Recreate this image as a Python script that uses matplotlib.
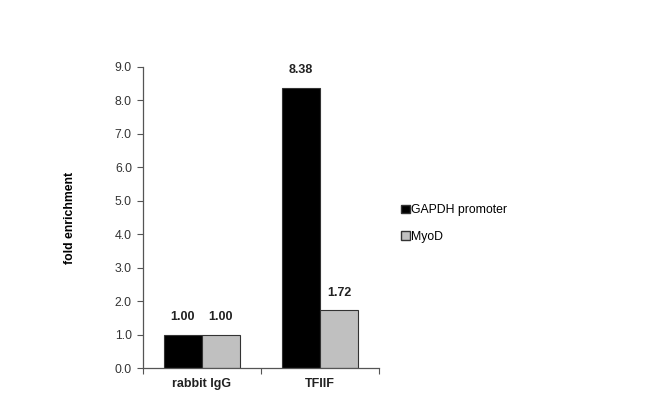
import matplotlib
matplotlib.use('Agg')
import matplotlib.pyplot as plt
import numpy as np
from matplotlib.patches import Patch

categories = ['rabbit IgG', 'TFIIF']
gapdh = [1.00, 8.38]
myod = [1.00, 1.72]
series_names = ['GAPDH promoter', 'MyoD']
yticks = np.arange(0, 9.01, 1.0)

plt.rcParams['font.family'] = ['Liberation Sans', 'DejaVu Sans']

fig = plt.figure(figsize=(6.5, 4.08), dpi=100)
ax = fig.add_axes([0.22, 0.098, 0.363, 0.738])

x = np.arange(len(categories))
w = 0.322
b1 = ax.bar(x - w / 2, gapdh, w, color='black', edgecolor='#333333', linewidth=0.8)
b2 = ax.bar(x + w / 2, myod, w, color='#c0c0c0', edgecolor='#333333', linewidth=0.8)

for bars, vals in [(b1, gapdh), (b2, myod)]:
    for r, v in zip(bars, vals):
        ax.text(r.get_x() + r.get_width() / 2, v + 0.35, '{:.2f}'.format(v),
                ha='center', va='bottom', fontsize=9, fontweight='bold', color='#222222')

ax.set_xlim(-0.5, 1.5)
ax.set_ylim(0, 9)
ax.set_yticks(yticks)
ax.set_yticklabels(['{:.1f}'.format(t) for t in yticks], fontsize=8.8, color='#333333')
ax.set_xticks([-0.5, 0.5, 1.5])
ax.set_xticklabels([])
ax.set_xticks(x, minor=True)
ax.set_xticklabels(categories, minor=True, fontsize=9, fontweight='bold', color='#222222')
ax.tick_params(axis='x', which='minor', length=0, pad=7)
ax.tick_params(axis='x', which='major', length=4, color='#555555')
ax.tick_params(axis='y', length=4, color='#555555', pad=4)
for s in ['top', 'right']:
    ax.spines[s].set_visible(False)
for s in ['left', 'bottom']:
    ax.spines[s].set_color('#555555')
    ax.spines[s].set_linewidth(0.9)

ax.set_ylabel('fold enrichment', fontsize=8.8, fontweight='bold', labelpad=28)

handles = [Patch(facecolor='black', edgecolor='#333333'), Patch(facecolor='#c0c0c0', edgecolor='#333333')]
fig.legend(handles, series_names, loc='center left', bbox_to_anchor=(0.6, 0.452),
           frameon=False, fontsize=8.8, handlelength=0.7, handleheight=0.7,
           handletextpad=0.1, labelspacing=1.2)

fig.savefig('out.png', dpi=100)
